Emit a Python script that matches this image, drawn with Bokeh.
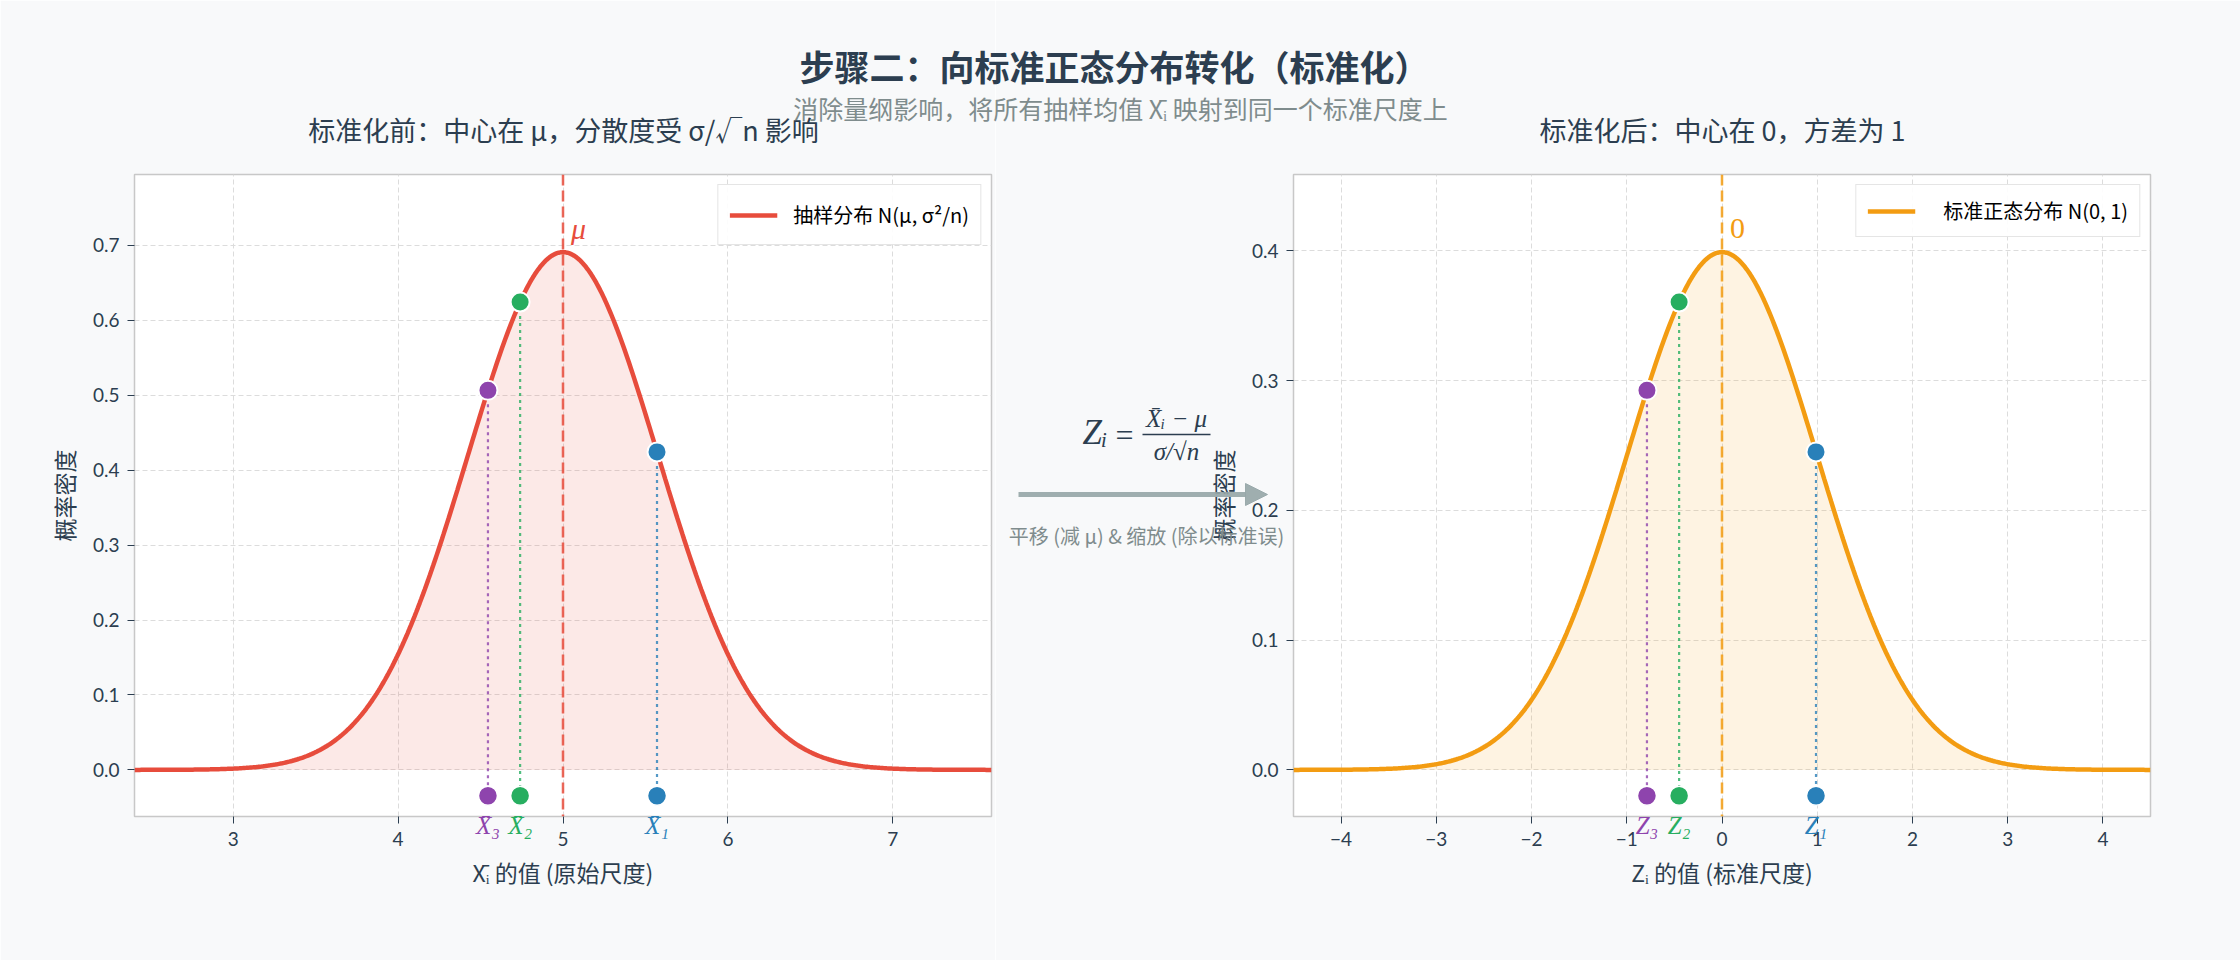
import numpy as np
from bokeh.plotting import figure
from bokeh.layouts import row
from bokeh.models import (Range1d, Label, Arrow, NormalHead, Span, Legend, LegendItem,
                          FixedTicker, NumeralTickFormatter, ColumnDataSource, GridBox)
from bokeh.embed import file_html
from bokeh.resources import INLINE

# ---------------- data ----------------
MU = 5.0            # population mean
SIGMA = 2.0         # population std
N_SAMPLE = 12       # sample size
sample_means = [5.57, 4.74, 4.545]          # X̄1, X̄2, X̄3
sample_labels = ["X̄₁", "X̄₂", "X̄₃"]
z_labels = ["Z₁", "Z₂", "Z₃"]
sample_colors = ["#2980b9", "#27ae60", "#8e44ad"]
left_xticks = [3, 4, 5, 6, 7]
left_yticks = [0.0, 0.1, 0.2, 0.3, 0.4, 0.5, 0.6, 0.7]
right_xticks = [-4, -3, -2, -1, 0, 1, 2, 3, 4]
right_yticks = [0.0, 0.1, 0.2, 0.3, 0.4]

title_text = "步骤二：向标准正态分布转化（标准化）"
subtitle_text = "消除量纲影响，将所有抽样均值 X̄ᵢ 映射到同一个标准尺度上"
left_title = "标准化前：中心在 μ，分散度受 σ/√n 影响"
right_title = "标准化后：中心在 0，方差为 1"
left_legend = "抽样分布 N(μ, σ²/n)"
right_legend = "标准正态分布 N(0, 1)"
ylabel = "概率密度"
left_xlabel = "X̄ᵢ 的值 (原始尺度)"
right_xlabel = "Zᵢ 的值 (标准尺度)"
arrow_text = "平移 (减 μ) & 缩放 (除以标准误)"

# ---------------- derived ----------------
SE = SIGMA / np.sqrt(N_SAMPLE)


def npdf(x, m, s):
    return np.exp(-(x - m) ** 2 / (2 * s * s)) / (s * np.sqrt(2 * np.pi))


xl = np.linspace(MU - 4.5 * SE, MU + 4.5 * SE, 500)
yl = npdf(xl, MU, SE)
zr = np.linspace(-4.5, 4.5, 500)
yr = npdf(zr, 0, 1)
peakL = npdf(MU, MU, SE)
peakR = npdf(0, 0, 1)
xs = np.array(sample_means)
zs = (xs - MU) / SE

RED = "#e74c3c"
ORANGE = "#f39c12"
DARK = "#2c3e50"
GRAY = "#7f8c8d"
ARROW_GRAY = "#95a5a6"
BG = "#f8f9fa"
CJK = "Noto Sans CJK SC"
SERIF = "Liberation Serif"
TICKFONT = "Lato"

W, H = 2240, 960
FRAME_T, FRAME_B = 174, 816
L_FRAME_L, R_FRAME_L = 134, 1293
FRAME_W = 857
FRAME_H = FRAME_B - FRAME_T
R_LEFT = 995      # page x where right figure starts


def make_fig(width, xrng, yrng, bl, br, xt, yt):
    p = figure(width=width, height=H, x_range=xrng, y_range=yrng,
               output_backend="svg", toolbar_location=None,
               min_border_left=bl, min_border_right=br,
               min_border_top=FRAME_T, min_border_bottom=H - FRAME_B,
               background_fill_color="white", border_fill_color=BG)
    p.outline_line_color = "#c8c8c8"
    p.outline_line_width = 1.5
    for ax in (p.xaxis, p.yaxis):
        ax.axis_line_color = None
        ax.major_tick_line_color = DARK
        ax.major_tick_out = 7
        ax.major_tick_in = 0
        ax.minor_tick_line_color = None
        ax.major_label_text_font = TICKFONT
        ax.major_label_text_font_size = "19px"
        ax.major_label_text_color = DARK
        ax.major_label_standoff = 8
        ax.axis_label_text_font = CJK
        ax.axis_label_text_font_size = "23px"
        ax.axis_label_text_font_style = "normal"
        ax.axis_label_text_color = DARK
        ax.axis_label_standoff = 9
    p.xaxis.axis_label_standoff = 6
    p.xaxis.ticker = FixedTicker(ticks=xt)
    p.yaxis.ticker = FixedTicker(ticks=yt)
    p.yaxis.formatter = NumeralTickFormatter(format="0.0")
    p.grid.grid_line_color = "#dcdcdc"
    p.grid.grid_line_dash = "5 3"
    p.grid.grid_line_width = 1
    return p


def add_panel(p, x, y, peak, pts, curve_color, legend_text, center, center_text,
              center_style, label_h, standoff):
    p.varea(x=x, y1=0, y2=y, fill_color=curve_color, fill_alpha=0.12)
    r = p.line(x, y, line_color=curve_color, line_width=4.5)
    p.add_layout(Span(location=center, dimension="height", line_color=curve_color,
                      line_dash="11 5", line_width=2.5, line_alpha=0.85))
    py = npdf(pts, center, (x[-1] - center) / 4.5)
    bottom = -0.05 * peak
    src = ColumnDataSource(dict(x=pts, y=py, yb=[bottom] * len(pts), c=sample_colors))
    p.segment(x0="x", y0="y", x1="x", y1="yb", source=src, line_color="c",
              line_dash="3 4", line_width=2.2, line_alpha=0.8)
    p.scatter(x="x", y="y", source=src, size=19, fill_color="c", line_color="white", line_width=2)
    p.scatter(x="x", y="yb", source=src, size=19, fill_color="c", line_color="white", line_width=1.5)
    p.add_layout(Label(x=center, y=1.045 * peak, x_offset=8, text=center_text, text_align="left",
                       text_baseline="middle", text_color=curve_color, text_font=SERIF,
                       text_font_style=center_style, text_font_size="30px"))
    leg = Legend(items=[LegendItem(label=legend_text, renderers=[r])], location="top_right")
    leg.margin = 10
    leg.padding = 11
    leg.label_text_font = CJK
    leg.label_text_font_size = "20px"
    leg.label_text_color = "black"
    leg.glyph_width = 48
    leg.glyph_height = 20
    leg.label_height = label_h
    leg.label_standoff = standoff
    leg.border_line_color = "#cccccc"
    leg.border_line_width = 1.5
    leg.background_fill_alpha = 0.9
    p.add_layout(leg)


# ---------------- left panel ----------------
LX0, LX1 = MU - 4.5 * SE, MU + 4.5 * SE
LY0, LY1 = -0.09 * peakL, 1.15 * peakL
left = make_fig(R_LEFT, Range1d(LX0, LX1), Range1d(LY0, LY1), L_FRAME_L, R_LEFT - L_FRAME_L - FRAME_W,
                left_xticks, left_yticks)
left.xaxis.axis_label = left_xlabel
left.yaxis.axis_label = ylabel
add_panel(left, xl, yl, peakL, xs, RED, left_legend, MU, "μ", "italic", 37, 16)

# ---------------- right panel ----------------
RX0, RX1 = -4.5, 4.5
RY0, RY1 = -0.09 * peakR, 1.15 * peakR
right = make_fig(W - R_LEFT, Range1d(RX0, RX1), Range1d(RY0, RY1), R_FRAME_L - R_LEFT, W - R_FRAME_L - FRAME_W,
                 right_xticks, right_yticks)
right.xaxis.axis_label = right_xlabel
right.yaxis.axis_label = ylabel
add_panel(right, zr, yr, peakR, zs, ORANGE, right_legend, 0.0, "0", "normal", 23, 28)

# ---------------- transparent overlay for texts outside the plot frames ----------------
ov = figure(width=W, height=H, x_range=Range1d(0, W), y_range=Range1d(H, 0),
            output_backend="svg", toolbar_location=None, min_border=0,
            x_axis_location=None, y_axis_location=None,
            background_fill_color=None, border_fill_color=None)
ov.outline_line_color = None
ov.grid.visible = False


def ov_label(text, px, py, size, color, font=CJK, style="normal", align="center"):
    ov.add_layout(Label(x=px, y=py, text=text, text_align=align, text_baseline="middle",
                        text_color=color, text_font=font, text_font_style=style,
                        text_font_size=size))


# header texts
ov_label(title_text, 1114, 65, "35px", DARK, style="bold")
ov_label(subtitle_text, 1120, 107, "25px", GRAY)
ov_label(left_title, 563, 129, "27px", DARK)
ov_label(right_title, 1722, 129, "27px", DARK)


# sample labels under the frames (page position from each panel's own ranges)
def to_page(v, vmin, vmax, pmin, plen):
    return pmin + (v - vmin) / (vmax - vmin) * plen


for xv, zv, lx, lz, col in zip(xs, zs, sample_labels, z_labels, sample_colors):
    yb_page = FRAME_B - to_page(-0.05 * peakL, LY0, LY1, 0, FRAME_H)
    ov_label(lx, to_page(xv, LX0, LX1, L_FRAME_L, FRAME_W), yb_page + 30, "25px", col, SERIF, "italic")
    ov_label(lz, to_page(zv, RX0, RX1, R_FRAME_L, FRAME_W), yb_page + 30, "25px", col, SERIF, "italic")

# formula between the panels
ov_label("Zᵢ", 1107, 432, "35px", DARK, SERIF, "italic", "right")
ov_label("=", 1124, 434, "32px", DARK, SERIF, "normal", "center")
ov_label("X̄ᵢ − μ", 1176, 418, "25px", DARK, SERIF, "italic")
ov_label("σ/√n", 1176, 451, "25px", DARK, SERIF, "italic")
ov.add_layout(Arrow(end=None, x_start=1142, y_start=434, x_end=1210, y_end=434,
                    line_color=DARK, line_width=1.5))
ov.add_layout(Arrow(end=NormalHead(size=22, fill_color=ARROW_GRAY, line_color=ARROW_GRAY,
                                   fill_alpha=0.9, line_alpha=0.9),
                    x_start=1018, y_start=494, x_end=1267, y_end=494,
                    line_color=ARROW_GRAY, line_width=5, line_alpha=0.9))
ov_label(arrow_text, 1146, 535, "20px", GRAY)

main = row(left, right, spacing=0)
layout = GridBox(children=[(main, 0, 0), (ov, 0, 0)])
open("out.html", "w").write(file_html(layout, INLINE))
